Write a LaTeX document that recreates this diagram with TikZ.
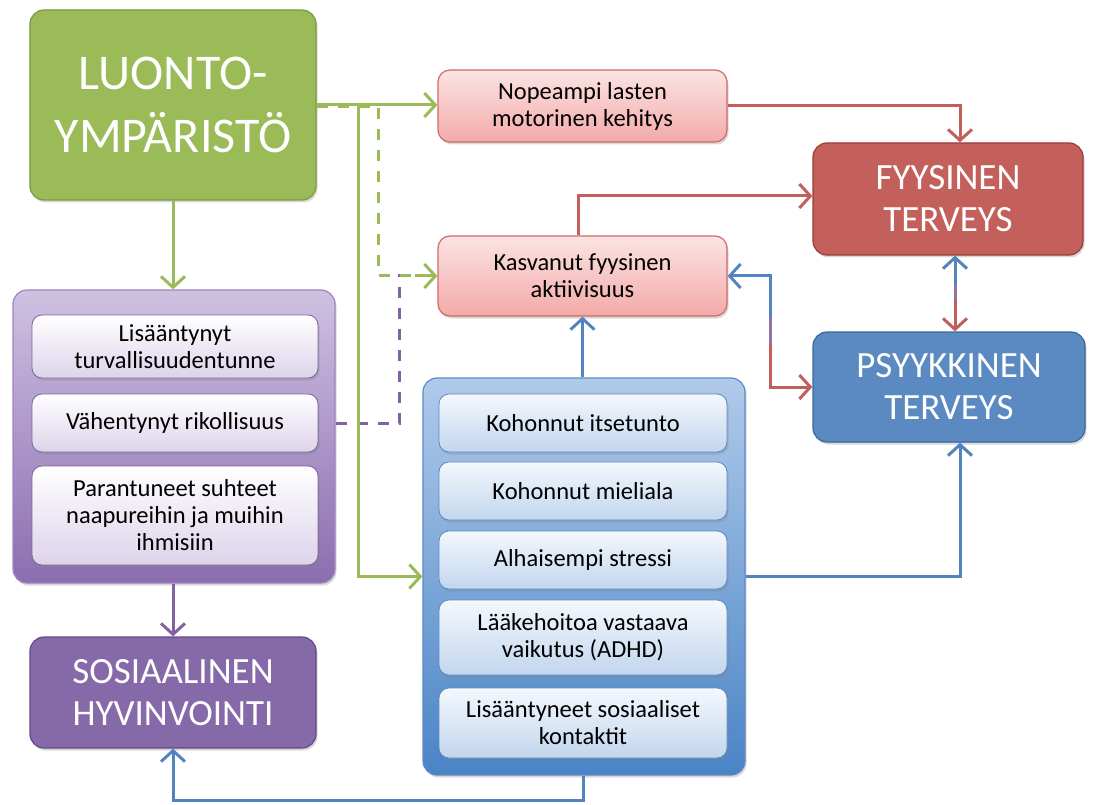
\documentclass[tikz,border=0pt]{standalone}
\usepackage{fontspec}
\setmainfont{Carlito}
\usetikzlibrary{arrows.meta,shadows,calc}
\definecolor{gfill}{HTML}{9BBB59}
\definecolor{gline}{HTML}{7A9A3F}
\definecolor{pktop}{HTML}{FBE4E4}
\definecolor{pkbot}{HTML}{F3AAA8}
\definecolor{pkline}{HTML}{D06A68}
\definecolor{rfill}{HTML}{C3605B}
\definecolor{rline}{HTML}{9E3B38}
\definecolor{bfill}{HTML}{5A8AC1}
\definecolor{bline}{HTML}{3A679C}
\definecolor{putop}{HTML}{CEC1E1}
\definecolor{pubot}{HTML}{8C6DB0}
\definecolor{puline}{HTML}{9E86C2}
\definecolor{pitop}{HTML}{FFFFFF}
\definecolor{pibot}{HTML}{DDD3EA}
\definecolor{piline}{HTML}{8064A2}
\definecolor{sfill}{HTML}{8669A8}
\definecolor{sline}{HTML}{644A86}
\definecolor{botop}{HTML}{B0CAEA}
\definecolor{bobot}{HTML}{4A84C6}
\definecolor{boline}{HTML}{5B8AC4}
\definecolor{bitop}{HTML}{F4F8FC}
\definecolor{bibot}{HTML}{C2D6EE}
\definecolor{biline}{HTML}{5C8BC4}
\definecolor{cg}{HTML}{9BBB59}
\definecolor{cr}{HTML}{C25E5B}
\definecolor{cb}{HTML}{5384C0}
\definecolor{cp}{HTML}{8064A2}
\definecolor{cmix}{HTML}{9274A4}
\tikzset{
  box/.style={rounded corners=14pt, line width=1.2pt, align=center, inner sep=0pt,
    drop shadow={opacity=0.3, shadow xshift=1.5pt, shadow yshift=-2.5pt}},
  bigtxt/.style={text=white, font=\fontsize{37}{42}\selectfont},
  smalltxt/.style={text=black, font=\fontsize{24.5}{27}\selectfont},
  pinkbox/.style={box, smalltxt, top color=pktop, bottom color=pkbot, draw=pkline},
  puinner/.style={box, smalltxt, rounded corners=10pt, top color=pitop, bottom color=pibot, draw=piline, line width=0.8pt},
  blinner/.style={box, smalltxt, rounded corners=10pt, top color=bitop, bottom color=bibot, draw=biline, line width=0.8pt},
  conn/.style={line width=3pt, -{Straight Barb[length=11pt,width=24pt]}},
  dconn/.style={line width=3pt, dash pattern=on 11pt off 10pt},
}
\begin{document}
\begin{tikzpicture}[x=1pt,y=-1pt]
\useasboundingbox (0,0) rectangle (1093,805);
% outer group boxes
\node[box, minimum width=322pt, minimum height=293pt, top color=putop, bottom color=pubot, draw=puline] (po) at (174,436.5) {};
\node[box, minimum width=322pt, minimum height=397pt, top color=botop, bottom color=bobot, draw=boline] (bo) at (584,576.5) {};
% main boxes
\node[box, minimum width=286pt, minimum height=190pt, fill=gfill, draw=gline, text=white, font=\fontsize{50}{63}\selectfont] (green) at (173,105) {LUONTO-\\YMPÄRISTÖ};
\node[pinkbox, minimum width=289pt, minimum height=72pt, rounded corners=12pt] (nop) at (582.5,106) {Nopeampi lasten\\motorinen kehitys};
\node[pinkbox, minimum width=289pt, minimum height=80pt, rounded corners=12pt] (kas) at (582.5,276) {Kasvanut fyysinen\\aktiivisuus};
\node[box, bigtxt, minimum width=270pt, minimum height=112pt, fill=rfill, draw=rline] (fyy) at (948,199) {FYYSINEN\\TERVEYS};
\node[box, bigtxt, minimum width=272pt, minimum height=110pt, fill=bfill, draw=bline] (psy) at (949,387) {PSYYKKINEN\\TERVEYS};
\node[box, bigtxt, minimum width=286pt, minimum height=111pt, fill=sfill, draw=sline] (sos) at (173,692.5) {SOSIAALINEN\\HYVINVOINTI};
% purple inner
\node[puinner, minimum width=286pt, minimum height=63pt] (p1) at (175,346.5) {Lisääntynyt\\turvallisuudentunne};
\node[puinner, minimum width=286pt, minimum height=58pt] (p2) at (175,423) {Vähentynyt rikollisuus};
\node[puinner, minimum width=286pt, minimum height=99pt] (p3) at (175,515.5) {Parantuneet suhteet\\naapureihin ja muihin\\ihmisiin};
% blue inner
\node[blinner, minimum width=288pt, minimum height=58pt] (b1) at (583,423) {Kohonnut itsetunto};
\node[blinner, minimum width=288pt, minimum height=58pt] (b2) at (583,491) {Kohonnut mieliala};
\node[blinner, minimum width=288pt, minimum height=58pt] (b3) at (583,560) {Alhaisempi stressi};
\node[blinner, minimum width=288pt, minimum height=75pt] (b4) at (583,637.5) {Lääkehoitoa vastaava\\vaikutus (ADHD)};
\node[blinner, minimum width=288pt, minimum height=70pt] (b5) at (583,723) {Lisääntyneet sosiaaliset\\kontaktit};
% connectors
\coordinate (gsplit) at ($(green.east)+(42,0)$);
\coordinate (gdash) at ($(green.east)+(62,2)$);
\coordinate (pdash) at ($(po.east |- p2)+(64,0)$);
\coordinate (pend) at ($(kas.west)+(-28,0)$);
\draw[dconn, cp] (po.east |- p2) -- (pdash) |- (pend);
\draw[dconn, cg] ($(green.east)+(0,2)$) -- (gdash) |- ($(kas.west)+(-22,0)$);
\draw[conn, cg] ($(kas.west)+(-22,0)$) -- (kas.west);
\draw[conn, cg] (green.east) -- (green.east -| nop.west);
\draw[conn, cg] (gsplit) |- (bo.west);
\draw[conn, cg] (green.south) -- (po.north -| green.south);
\draw[conn, cp] (po.south -| sos.north) -- (sos.north);
\draw[conn, cr] (nop.east) -| ([xshift=12pt]fyy.north);
\draw[conn, cr] ([xshift=-4pt]kas.north) |- ([yshift=3pt]fyy.west);
\draw[conn, cb] (bo.north -| kas.south) -- (kas.south);
\coordinate (m1) at (770,331);
\draw[conn, cb] (m1) |- (kas.east);
\draw[conn, cr] (m1) |- (psy.west);
\draw[line width=3pt, cmix] (770,318) -- (770,344);
\coordinate (m2) at (955,293);
\draw[conn, cb] (m2) -- (fyy.south -| m2);
\draw[conn, cr] (m2) -- (psy.north -| m2);
\draw[line width=3pt, cmix] (955,285) -- (955,301);
\draw[conn, cb] (bo.east) -| ([xshift=11pt]psy.south);
\coordinate (bl) at ($(bo.south)+(-1,25)$);
\draw[conn, cb] ([xshift=-1pt]bo.south) -- (bl) -| (sos.south);
\end{tikzpicture}
\end{document}
